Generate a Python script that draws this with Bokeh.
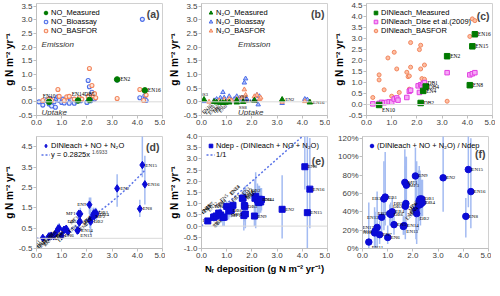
import numpy as np
from bokeh.plotting import figure
from bokeh.models import (Range1d, FixedTicker, NumeralTickFormatter, Legend, LegendItem,
                          Label, Span)
from bokeh.layouts import column, row
from bokeh.embed import file_html
from bokeh.resources import INLINE
from bokeh.core.properties import value

# ---------------- data ----------------
x_ticks = [0, 1, 2, 3, 4, 5]
y_ticks_ab = [-0.5, 0, 0.5, 1.0, 1.5, 2.0, 2.5, 3.0, 3.5]
y_ticks_c = [-0.5, 0, 0.5, 1.0, 1.5, 2.0, 2.5, 3.0, 3.5, 4.0, 4.5]
y_ticks_d = [-0.5, 0.5, 1.5, 2.5, 3.5, 4.5]
y_ticks_e = [-1.0, -0.5, 0, 0.5, 1.0, 1.5, 2.0, 2.5, 3.0, 3.5, 4.0]
y_ticks_f = [0, 20, 40, 60, 80, 100, 120]

# (a) NO
no_meas_x = [0.5, 1.65, 2.1, 3.2, 4.3]
no_meas_y = [0.0, 0.05, 0.07, 0.82, 0.42]
no_meas_lab = ["EN10", "EN14", "DB5", "EN2", "EN16"]
no_meas_mode = ["a", "a", "a", "r", "r"]
no_bio_x = [0.1, 0.25, 0.4, 0.5, 0.55, 0.6, 0.7, 0.75, 0.8, 0.85, 0.9, 1.0, 1.05, 1.1, 1.2, 1.3, 1.4,
            1.5, 1.6, 1.7, 1.75, 2.0, 2.05, 2.1, 2.15, 2.2, 2.25, 2.3, 3.2, 4.1, 4.2, 4.3, 4.35]
no_bio_y = [0.0, -0.12, 0.05, -0.08, 0.12, -0.15, 0.0, -0.2, 0.1, 0.18, 0.05, -0.02, 0.1, -0.04, 0.05,
            -0.05, 0.08, -0.05, 0.02, 0.1, 0.04, -0.02, 0.78, 0.55, 0.04, 0.35, 0.22, 0.1, 0.8, 0.15,
            3.02, 0.22, 0.05]
no_bas_x = [0.25, 0.5, 0.6, 0.85, 0.9, 1.1, 1.2, 1.3, 1.5, 1.7, 1.8, 2.05, 2.1, 2.2, 2.25, 2.3, 2.35,
            3.2, 4.1, 4.25, 4.35]
no_bas_y = [0.05, 0.1, 0.05, 0.45, 0.2, 0.05, 0.18, 0.2, 0.1, 0.15, 0.1, 0.2, 1.22, 0.6, 0.22, 0.3,
            0.15, 0.12, 0.45, 0.05, 0.25]

# (b) N2O
n2o_bio_x = [0.1, 0.5, 0.6, 0.75, 0.85, 0.9, 1.0, 1.1, 1.2, 1.3, 1.4, 1.5, 1.6, 1.7, 1.75, 1.8, 2.1,
             2.2, 2.25, 2.3, 3.2, 4.1, 4.2]
n2o_bio_y = [0.02, 0.05, 0.1, 0.15, 0.35, 0.15, 0.0, 0.2, 0.05, 0.1, 0.2, 0.05, 0.15, 0.7, 0.85, 0.1,
             0.1, 0.25, -0.1, 0.2, -0.05, 0.1, 0.08]
n2o_bas_x = [0.3, 0.5, 0.7, 0.9, 1.1, 1.2, 1.4, 1.6, 1.7, 1.75, 2.1, 2.2, 2.3, 2.35, 3.2, 4.1, 4.3]
n2o_bas_y = [0.0, 0.02, 0.05, 0.08, 0.1, 0.05, 0.1, 0.15, 0.45, 0.25, 0.2, 0.25, 0.1, 0.15, 0.0,
             0.02, 0.0]
n2o_meas_x = [0.1, 0.5, 0.6, 0.75, 0.85, 0.95, 1.1, 1.4, 1.4, 1.65, 2.1, 3.2, 4.3]
n2o_meas_y = [0.08, 0.0, -0.02, -0.03, -0.04, -0.03, -0.02, 0.05, -0.02, 0.0, 0.05, 0.08, -0.02]
n2o_meas_lab = ["SS3", "EN10", "EN18", "EN12", "EB5", "EB1", "EN6", "SS4", "SS8", "EN14", "DB1",
                "EN2", "EN16"]
n2o_meas_mode = ["a", "rd", "rd", "rd", "rd", "rd", "rd", "ar", "br", "r", "l", "r", "r"]

# (c) DIN leaching
din_meas_x = [0.5, 2.15, 2.25, 2.35, 3.2, 4.1, 4.2, 4.3]
din_meas_y = [-0.02, 0.07, 0.62, 0.82, 2.2, 0.88, 2.65, 3.2]
din_meas_lab = ["EN10", "DB2", "EN4", "DB4", "EN2", "EN8", "EN15", "EN16"]
din_dise_x = [0.25, 0.5, 0.6, 0.7, 0.8, 0.9, 1.0, 1.1, 1.2, 1.25, 1.6, 1.7, 1.75, 2.05, 2.1, 2.15,
              2.2, 2.25, 2.3, 3.2, 4.1, 4.2, 4.3]
din_dise_y = [0.03, 0.05, 0.1, 0.08, 0.1, 0.12, 0.1, 0.25, 0.3, 0.2, 0.32, 0.6, 0.65, 0.85, 0.55, 0.9,
              0.85, 0.95, 1.0, 1.45, 1.35, 1.4, 1.45]
din_dise_lab = [""] * 18 + ["DB1"] + [""] * 4
din_bas_x = [0.25, 0.5, 0.5, 0.7, 0.85, 1.0, 1.1, 1.2, 1.3, 1.6, 1.65, 1.7, 1.75, 1.75, 1.7, 2.1, 2.15,
             2.15, 2.2, 2.3, 2.3, 3.2, 4.1, 4.2, 4.3]
din_bas_y = [0.32, 1.35, 1.12, 0.67, 2.12, 0.38, 2.38, 1.62, 0.55, 1.47, 1.27, 1.3, 2.82, 1.7, 0.7, 2.5,
             2.7, 1.62, 1.18, 1.8, 1.15, 0.15, 3.1, 3.9, 3.82]

# (d)-(f) site totals
sites = ["EN11", "EN18", "EN10", "EN17", "EN7", "EN12", "EN6", "EN5", "EB3", "EB1", "EB2", "EB4",
         "DB6", "EN13", "EN14", "DB5", "DB3", "MF1", "MF3", "EN9", "DB2", "EN3", "EN4", "MF2", "MF4",
         "EN1", "DB1", "DB4", "EN2", "EN8", "EN15", "EN16"]
ndep = [0.25, 0.48, 0.50, 0.58, 0.68, 0.76, 1.00, 1.25, 0.85, 0.90, 1.08, 1.18, 1.12, 1.62, 1.65, 1.72,
        1.70, 1.68, 1.74, 2.10, 2.15, 2.12, 2.30, 2.22, 2.25, 2.28, 2.35, 2.38, 3.20, 4.10, 4.20, 4.30]
total_loss = [0.02, 0.08, 0.10, 0.13, 0.10, 0.26, 0.12, 0.32, 0.46, 0.50, 0.41, 0.47, 0.42, 0.38, 0.40,
              0.84, 0.78, 1.21, 1.20, 1.65, 0.82, 0.88, 1.10, 1.05, 1.17, 1.23, 1.27, 1.19, 2.45, 1.45,
              3.60, 2.65]
total_lo = [0.0, 0.0, 0.0, 0.05, 0.02, 0.1, 0.05, 0.2, 0.3, 0.3, 0.25, 0.3, 0.3, 0.25, 0.25, 0.6, 0.55,
            0.6, 0.85, 1.2, 0.15, 0.5, 0.8, 0.7, 0.9, 0.9, 1.0, 0.9, 1.55, 1.05, 3.0, 1.66]
total_hi = [0.08, 0.2, 0.25, 0.25, 0.2, 0.45, 0.2, 0.45, 0.7, 0.75, 0.6, 0.65, 0.55, 0.55, 0.55, 1.1,
            1.0, 1.35, 1.5, 2.0, 2.0, 1.3, 1.4, 1.4, 1.5, 1.5, 1.5, 1.45, 3.15, 1.9, 5.5, 4.06]
retained = [0.23, 0.40, 0.40, 0.45, 0.58, 0.50, 0.88, 0.93, 0.39, 0.40, 0.67, 0.71, 0.70, 1.24, 1.25,
            0.88, 0.92, 0.47, 0.54, 0.45, 1.33, 1.24, 1.20, 1.17, 1.08, 1.05, 1.08, 1.19, 0.75, 2.65,
            0.60, 1.65]
ret_lo = [0.1, 0.2, 0.2, 0.3, 0.4, 0.35, 0.6, 0.7, 0.0, 0.0, 0.3, 0.4, 0.4, 0.9, 0.9, 0.2, 0.3, -0.2,
          -0.1, 0.0, -0.1, 0.3, 0.6, 0.5, 0.4, 0.4, 0.6, 0.7, -0.55, 1.63, -1.2, -0.1]
ret_hi = [0.35, 0.6, 0.6, 0.6, 0.75, 0.7, 1.1, 1.2, 0.6, 0.6, 1.0, 1.0, 1.0, 1.5, 1.6, 1.5, 1.4, 1.7,
          1.8, 0.9, 2.4, 2.1, 1.8, 1.9, 1.8, 1.7, 1.7, 1.7, 2.27, 4.5, 4.5, 3.93]
ratio_pct = [7, 17, 19, 23, 15, 34, 12, 26, 54, 56, 38, 40, 37, 24, 25, 49, 46, 72, 69, 79, 38, 42, 48,
             47, 52, 54, 54, 50, 77, 35, 86, 62]
ratio_lo = [0, 0, 0, 2, 5, 15, 5, 15, 20, 25, 25, 28, 25, 15, 15, 20, 10, 40, 35, 45, 5, 10, 25, 20, 30,
            30, 35, 35, 40, 12, 45, 22]
ratio_hi = [50, 45, 40, 62, 30, 55, 25, 40, 95, 105, 48, 55, 50, 35, 35, 100, 90, 108, 100, 110, 95, 90,
            80, 85, 90, 85, 75, 75, 125, 55, 125, 120]
mode_d = ["rd", "rd", "rd", "rd", "rd", "rd", "r", "rd", "rd", "rd", "rd", "rd", "rd", "rb", "r", "l",
          "rd", "l", "rd", "l", "r", "rd", "rd", "r", "rd", "rd", "r", "r", "r", "r", "r", "r"]
mode_e = ["l", "ru", "ru", "ru", "ru", "ru", "l", "ru", "rd", "rd", "ru", "ru", "r", "ru", "ru", "r",
          "ru", "l", "l", "r", "a", "ru", "r", "ru", "ru", "ru", "ru", "r", "r", "r", "r", "r"]
mode_f = ["rb", "l", "l", "l", "r", "l", "r", "r", "l", "r", "l", "r", "r", "rb", "r", "l", "l", "r",
          "r", "r", "rb", "rd", "rd", "rd", "rd", "rd", "r", "r", "r", "r", "r", "r"]
fit_a, fit_b = 0.2825, 1.6933
fit_x = np.linspace(0.0, 4.3, 60)
one_to_one = [0, 5]

# ---------------- styling ----------------
SANS = "Liberation Sans"
SERIF = "Liberation Serif"
YT = "g N m\u207b\u00b2 yr\u207b\u00b9"
GREEN = "#007A00"
BLUE_O = "#4D6EE8"
ORANGE = "#F2865E"
PINK = "#E23FE2"
DBLUE = "#0B0BD6"
ERR = "#A3BBF2"
FW = [126, 126, 126]
FH = 112


def make_fig(fw, y0, y1, yticks, ylabel, bottom, pct=False, xlabel=None):
    p = figure(frame_width=fw, frame_height=FH, output_backend="svg", toolbar_location=None,
               x_range=Range1d(0, 5), y_range=Range1d(y0, y1),
               min_border_left=32, min_border_right=3, min_border_top=3, min_border_bottom=bottom)
    p.xgrid.visible = False
    p.ygrid.visible = False
    p.outline_line_color = "#D0D0D0"
    for ax in (p.xaxis[0], p.yaxis[0]):
        ax.axis_line_color = "#BFBFBF"
        ax.major_tick_line_color = "#BFBFBF"
        ax.major_tick_out = 3
        ax.major_tick_in = 0
        ax.minor_tick_line_color = None
        ax.major_label_text_font = SANS
        ax.major_label_text_font_size = "8px"
        ax.major_label_text_color = "#404040"
        ax.major_label_standoff = 1
        ax.axis_label_standoff = 1
        ax.axis_label_text_font = SANS
        ax.axis_label_text_font_style = "bold"
        ax.axis_label_text_color = "black"
    p.xaxis[0].ticker = FixedTicker(ticks=x_ticks)
    p.xaxis[0].formatter = NumeralTickFormatter(format="0.0")
    p.yaxis[0].ticker = FixedTicker(ticks=yticks)
    if pct:
        p.yaxis[0].major_label_overrides = {t: f"{t}%" for t in yticks}
    else:
        p.yaxis[0].formatter = NumeralTickFormatter(format="0.0")
    if ylabel:
        p.yaxis[0].axis_label = ylabel
        p.yaxis[0].axis_label_text_font_size = "10px"
    if xlabel:
        p.xaxis[0].axis_label = xlabel
        p.xaxis[0].axis_label_text_font_size = "9.5px"
        p.xaxis[0].axis_label_standoff = 2
    if y0 < 0 and not pct:
        p.add_layout(Span(location=0, dimension="width", line_color="#D9D9D9", line_width=1))
    return p


def add_legend(p, items):
    leg = Legend(items=[LegendItem(label=l, renderers=[r]) for l, r in items],
                 location="top_left", margin=3, padding=2, spacing=0,
                 glyph_width=9, glyph_height=9, label_height=9, label_standoff=1,
                 label_text_font=SANS, label_text_font_size="7.5px", label_text_color="black",
                 border_line_alpha=0, background_fill_alpha=0)
    p.add_layout(leg)


def panel_tag(p, txt, y):
    p.add_layout(Label(x=4.88, y=y, text=txt, text_align="right", text_baseline="middle",
                       text_font=SANS, text_font_size="10.5px", text_font_style="bold"))


MODES = {
    "r": dict(angle=0, x_offset=3, y_offset=0, text_align="left", text_baseline="middle"),
    "rb": dict(angle=0, x_offset=3, y_offset=5, text_align="left", text_baseline="middle"),
    "ar": dict(angle=0, x_offset=2, y_offset=-4, text_align="left", text_baseline="middle"),
    "br": dict(angle=0, x_offset=2, y_offset=5, text_align="left", text_baseline="middle"),
    "l": dict(angle=0, x_offset=-3, y_offset=0, text_align="right", text_baseline="middle"),
    "a": dict(angle=0, x_offset=0, y_offset=-3, text_align="center", text_baseline="bottom"),
    "rd": dict(angle=np.pi / 4, x_offset=-3, y_offset=3, text_align="right", text_baseline="middle"),
    "ru": dict(angle=np.pi / 4, x_offset=-12, y_offset=-4, text_align="left", text_baseline="middle"),
}


def add_labels(p, xs, ys, labs, modes, size="5.5px"):
    for m, kw in MODES.items():
        idx = [i for i, mm in enumerate(modes) if mm == m and labs[i]]
        if not idx:
            continue
        p.text(x=[xs[i] for i in idx], y=[ys[i] for i in idx], text=[labs[i] for i in idx],
               text_font=value(SERIF), text_font_size=value(size), text_color="black", **kw)


def italic_note(p, x, y, txt):
    p.add_layout(Label(x=x, y=y, text=txt, text_align="left", text_baseline="middle",
                       text_font=SANS, text_font_size="8px", text_font_style="italic",
                       text_color="#333333"))


# ---------------- (a) ----------------
pa = make_fig(FW[0], -0.5, 3.6, y_ticks_ab, YT, 18)
r_abio = pa.scatter(no_bio_x, no_bio_y, marker="circle", size=4, line_color=BLUE_O,
                    fill_color="#E4EAFF", line_width=1.1)
r_abas = pa.scatter(no_bas_x, no_bas_y, marker="circle", size=4, line_color=ORANGE,
                    fill_color="#FFE6D8", line_width=1.1)
r_ameas = pa.scatter(no_meas_x, no_meas_y, marker="circle", size=5.5, line_color=GREEN,
                     fill_color=GREEN)
add_labels(pa, no_meas_x, no_meas_y, no_meas_lab, no_meas_mode)
add_legend(pa, [("NO_Measured", r_ameas), ("NO_Bioassay", r_abio), ("NO_BASFOR", r_abas)])
italic_note(pa, 0.2, 2.1, "Emission")
italic_note(pa, 0.2, -0.38, "Uptake")
panel_tag(pa, "(a)", 3.2)

# ---------------- (b) ----------------
pb = make_fig(FW[1], -0.5, 3.6, y_ticks_ab, YT, 18)
r_bbio = pb.scatter(n2o_bio_x, n2o_bio_y, marker="triangle", size=4.5, line_color=BLUE_O,
                    fill_color="#AFC0FA", line_width=1)
r_bbas = pb.scatter(n2o_bas_x, n2o_bas_y, marker="triangle", size=4.5, line_color=ORANGE,
                    fill_color="#FFC9B0", line_width=1)
r_bmeas = pb.scatter(n2o_meas_x, n2o_meas_y, marker="triangle", size=5.5, line_color=GREEN,
                     fill_color=GREEN)
add_labels(pb, n2o_meas_x, n2o_meas_y, n2o_meas_lab, n2o_meas_mode, size="5px")
add_legend(pb, [("N\u2082O_Measured", r_bmeas), ("N\u2082O_Bioassay", r_bbio),
                ("N\u2082O_BASFOR", r_bbas)])
italic_note(pb, 1.45, 2.1, "Emission")
italic_note(pb, 1.45, -0.38, "Uptake")
panel_tag(pb, "(b)", 3.2)

# ---------------- (c) ----------------
pc = make_fig(FW[2], -0.5, 4.6, y_ticks_c, YT, 18)
r_cbas = pc.scatter(din_bas_x, din_bas_y, marker="circle", size=4, line_color=ORANGE,
                    fill_color="#FDBFA3", line_width=1)
r_cdise = pc.scatter(din_dise_x, din_dise_y, marker="square", size=4.5, line_color=PINK,
                     fill_color="#F6A8F6", line_width=1)
r_cmeas = pc.scatter(din_meas_x, din_meas_y, marker="square", size=5.5, line_color=GREEN,
                     fill_color=GREEN)
add_labels(pc, din_meas_x, din_meas_y, din_meas_lab, ["rb", "r", "r", "r", "r", "r", "r", "r"])
add_labels(pc, din_dise_x, din_dise_y, din_dise_lab, ["r"] * len(din_dise_lab))
add_legend(pc, [("DINleach_Measured", r_cmeas), ("DINleach_Dise et al.(2009)", r_cdise),
                ("DINleach_BASFOR", r_cbas)])
panel_tag(pc, "(c)", 4.05)

# ---------------- (d) ----------------
pd_ = make_fig(FW[0], -0.5, 5.0, y_ticks_d, YT, 26)
pd_.segment(x0=ndep, y0=total_lo, x1=ndep, y1=total_hi, line_color=ERR, line_width=1.5)
r_dfit = pd_.line(fit_x, fit_a * fit_x ** fit_b, line_color="#5A73E8", line_width=1.5,
                  line_dash="2 2")
r_d = pd_.scatter(ndep, total_loss, marker="diamond", size=7.5, line_color=DBLUE, fill_color=DBLUE)
add_labels(pd_, ndep, total_loss, sites, mode_d, size="5px")
add_legend(pd_, [("DINleach + NO + N\u2082O", r_d), ("y = 0.2825x", r_dfit)])
pd_.add_layout(Label(x=2.2, y=4.26, text=f"{fit_b}", text_align="left", text_baseline="middle",
                     text_font=SANS, text_font_size="5px"))
panel_tag(pd_, "(d)", 4.5)

# ---------------- (e) ----------------
pe = make_fig(FW[1], -1.0, 4.0, y_ticks_e, YT, 26,
              xlabel="N\u1d63 deposition (g N m\u207b\u00b2 yr\u207b\u00b9)")
pe.segment(x0=ndep, y0=ret_lo, x1=ndep, y1=ret_hi, line_color=ERR, line_width=1.5)
r_e11 = pe.line(one_to_one, one_to_one, line_color="#5A73E8", line_width=1.5, line_dash="2 2")
r_e = pe.scatter(ndep, retained, marker="square", size=6, line_color=DBLUE, fill_color=DBLUE)
add_labels(pe, ndep, retained, sites, mode_e, size="5px")
add_legend(pe, [("Ndep - (DINleach + NO + N\u2082O)", r_e), ("1/1", r_e11)])
panel_tag(pe, "(e)", 2.9)

# ---------------- (f) ----------------
pf = make_fig(FW[2], 0, 122, y_ticks_f, None, 26, pct=True)
pf.segment(x0=ndep, y0=ratio_lo, x1=ndep, y1=ratio_hi, line_color=ERR, line_width=1.5)
r_f = pf.scatter(ndep, ratio_pct, marker="circle", size=6.5, line_color=DBLUE, fill_color=DBLUE)
add_labels(pf, ndep, ratio_pct, sites, mode_f, size="5px")
add_legend(pf, [("(DINleach + NO + N\u2082O) / Ndep", r_f)])
panel_tag(pf, "(f)", 103)

layout = column(row(pa, pb, pc), row(pd_, pe, pf))
open("out.html", "w").write(file_html(layout, INLINE))
